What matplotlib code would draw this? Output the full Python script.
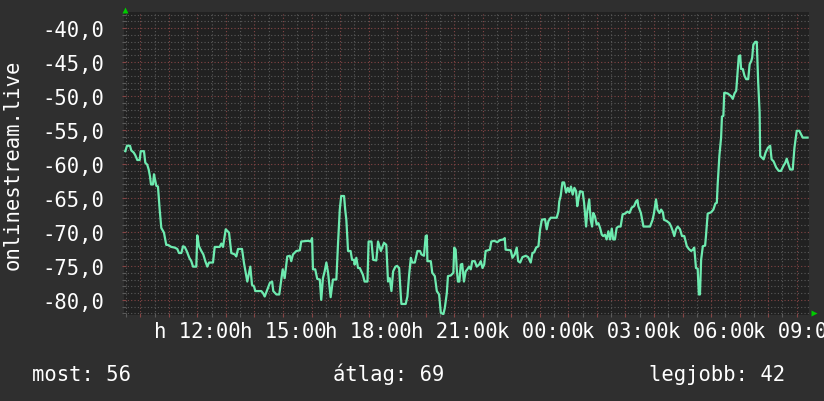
import matplotlib
matplotlib.use("Agg")
import matplotlib.pyplot as plt
from matplotlib.ticker import MultipleLocator, FuncFormatter

plt.rcParams['font.family'] = ['DejaVu Sans Mono']

# time in hours (values > 24 belong to the next day)
hours = [
 9.475, 9.535, 9.64, 9.686, 9.77, 9.826, 9.896, 9.98, 10.015, 10.13, 10.176, 10.246, 10.295, 10.34,
 10.376, 10.446, 10.48, 10.562, 10.62, 10.68, 10.737, 10.83, 10.91, 10.97, 11.087, 11.207, 11.298,
 11.357, 11.438, 11.497, 11.557, 11.627, 11.718, 11.788, 11.848, 11.963, 11.998, 12.058, 12.139,
 12.209, 12.279, 12.349, 12.408, 12.548, 12.608, 12.783, 12.84, 12.899, 12.994, 13.11, 13.19, 13.31,
 13.365, 13.425, 13.565, 13.635, 13.694, 13.75, 13.855, 13.915, 13.985, 14.03, 14.24,
 14.30, 14.36, 14.45, 14.54, 14.62, 14.66, 14.77, 14.87, 14.94, 14.99, 15.06, 15.15, 15.24, 15.29,
 15.35, 15.47, 15.59, 15.64, 15.88, 15.97, 16.02, 16.05, 16.13, 16.20, 16.29, 16.34, 16.40, 16.46,
 16.52, 16.58, 16.67, 16.75, 16.87, 16.93, 16.99, 17.04, 17.14, 17.18, 17.22, 17.28, 17.37, 17.42,
 17.49, 17.51, 17.57, 17.63, 17.69, 17.80, 17.86, 17.96, 18.00, 18.10, 18.16, 18.27, 18.33, 18.43,
 18.54, 18.62, 18.68, 18.74, 18.80, 18.86, 18.94, 19.00,
 19.07, 19.13, 19.15, 19.30, 19.36, 19.42, 19.48, 19.53, 19.62, 19.71, 19.80, 19.85, 19.94, 20.00,
 20.04, 20.06, 20.18, 20.23, 20.32, 20.39, 20.47, 20.53, 20.62, 20.67, 20.74, 20.78, 20.88, 20.97,
 21.00, 21.05, 21.09, 21.13, 21.18, 21.23, 21.28, 21.34, 21.40, 21.46, 21.52, 21.58, 21.63, 21.72,
 21.79, 21.87, 21.93, 21.99, 22.05, 22.10, 22.18, 22.25, 22.30, 22.40, 22.51, 22.60, 22.72, 22.77,
 22.80, 22.98, 23.04, 23.12, 23.19, 23.24, 23.31, 23.39, 23.51, 23.59, 23.68, 23.74, 23.80,
 23.87, 23.95, 24.01, 24.07, 24.18, 24.24, 24.30, 24.38, 24.59, 24.65, 24.68, 24.73, 24.79, 24.85,
 24.92, 24.98, 25.03, 25.09, 25.15, 25.21, 25.27, 25.31, 25.36, 25.41, 25.50, 25.55, 25.62, 25.66,
 25.73, 25.78, 25.83, 25.87, 25.93, 25.99, 26.05, 26.11, 26.17, 26.22, 26.28, 26.34, 26.40, 26.46,
 26.52, 26.57, 26.63, 26.69, 26.75, 26.83, 26.90, 26.98, 27.07, 27.14, 27.22, 27.30, 27.37, 27.42,
 27.45, 27.54, 27.63, 27.86, 27.95, 28.00, 28.07, 28.12, 28.19, 28.25, 28.31, 28.35, 28.45, 28.54,
 28.60, 28.66, 28.71, 28.77, 28.83, 28.91, 28.98, 29.06, 29.15, 29.22, 29.30, 29.36, 29.41, 29.47,
 29.53, 29.57, 29.61, 29.65, 29.71, 29.79, 29.82, 29.88, 30.00, 30.08, 30.15, 30.20, 30.23, 30.29,
 30.35, 30.38, 30.43, 30.46, 30.58, 30.70, 30.76, 30.82, 30.88, 30.91, 30.97, 31.02, 31.05, 31.11,
 31.17, 31.23, 31.30, 31.35, 31.41, 31.44, 31.48, 31.55, 31.60, 31.65, 31.70, 31.72, 31.79, 31.84,
 31.91, 31.99, 32.07, 32.12, 32.19, 32.28, 32.37, 32.45, 32.53, 32.60, 32.65, 32.72, 32.77, 32.86,
 32.92, 33.00, 33.09, 33.15, 33.21, 33.38,
]

values = [
 -58.1, -57.3, -57.3, -58.0, -58.3, -58.7, -59.4, -59.4, -58.1, -58.1, -59.8, -60.1, -60.8, -61.8,
 -63.0, -63.0, -61.5, -63.2, -63.3, -66.7, -69.4, -70.1, -71.9, -71.9, -72.2, -72.3, -72.5,
 -73.1, -73.1, -72.1, -72.2, -72.8, -73.8, -74.3, -75.1, -75.1, -70.5, -72.1, -72.8,
 -73.3, -74.3, -75.1, -74.5, -74.5, -72.2, -72.2, -71.7, -72.2, -69.6, -70.1, -73.1, -73.3,
 -73.6, -72.5, -72.5, -74.6, -76.0, -77.3, -75.1, -77.8, -78.0, -78.7, -78.7,
 -79.0, -79.5, -78.5, -77.5, -77.3, -78.7, -79.2, -79.2, -77.0, -75.5, -76.8, -73.6, -73.5, -74.3,
 -73.3, -72.8, -72.7, -71.4, -71.3, -71.4, -70.9, -75.5, -75.5, -76.9, -77.0, -80.0, -76.8, -75.8,
 -74.5, -76.0, -79.6, -77.0, -77.0, -71.6, -66.7, -64.7, -64.7, -66.7, -68.2, -72.8, -72.8, -74.1,
 -74.1, -74.8, -73.8, -75.3, -75.3, -76.3, -77.3, -77.3, -71.4, -71.4, -74.1, -74.2, -71.4, -72.8,
 -71.6, -71.9, -77.3, -76.8, -78.7, -75.8, -75.1, -75.0,
 -75.3, -79.5, -80.6, -80.6, -79.5, -76.3, -73.8, -74.5, -74.5, -72.8, -72.8, -73.3, -73.5, -70.6,
 -70.5, -74.3, -74.3, -76.0, -76.5, -78.7, -79.2, -81.9, -82.1, -81.2, -79.0, -76.5, -76.4, -76.0,
 -72.3, -72.6, -75.5, -77.3, -77.3, -74.8, -74.7, -77.3, -75.8, -75.5, -75.1, -75.5, -74.3, -74.3,
 -75.1, -74.8, -74.3, -75.3, -74.8, -72.8, -72.7, -72.6, -71.4, -71.3, -71.5, -71.2, -71.1, -70.9,
 -72.6, -72.7, -73.8, -73.3, -72.3, -74.3, -74.5, -73.7, -73.5, -73.7, -74.5, -73.1, -73.0,
 -72.3, -72.1, -69.6, -68.2, -68.1, -69.6, -68.4, -67.9, -67.9, -67.0, -65.5, -64.7, -62.7, -62.7,
 -64.2, -63.5, -64.1, -63.3, -64.5, -63.5, -64.0, -66.2, -65.0, -64.0, -64.1, -65.7, -69.2, -67.0,
 -65.2, -68.2, -69.2, -67.2, -67.7, -68.9, -68.7, -69.4, -70.4, -70.6, -70.4, -71.1, -69.9, -71.1,
 -69.5, -71.1, -71.1, -69.4, -69.2, -69.2, -67.4, -67.3, -67.0, -67.2, -66.4, -66.2, -65.5, -65.3,
 -66.2, -67.2, -69.2, -69.2, -68.2, -67.2, -65.2, -66.7, -67.2, -66.7, -67.1, -68.2, -68.4, -68.7,
 -69.2, -69.9, -70.6, -69.6, -69.2, -69.6, -70.6, -70.6, -72.1, -72.5, -72.8, -72.6, -72.3, -75.3,
 -75.4, -79.2, -79.2, -74.1, -72.1, -72.0, -70.6, -67.3, -67.1, -66.7, -65.8, -65.7, -63.0, -58.8,
 -56.1, -53.0, -52.9, -49.5, -49.6, -50.0, -50.4, -49.6, -49.2, -47.5, -44.1, -44.0, -46.0, -46.0,
 -47.0, -47.5, -47.5, -45.3, -44.8, -44.3, -42.4, -42.0, -42.0, -48.0, -52.4, -58.8, -59.1, -59.3,
 -58.3, -57.6, -57.3, -59.3, -59.6, -60.5, -61.0, -61.0, -60.3, -59.8, -59.2, -60.2, -60.8, -60.8,
 -57.6, -55.1, -55.1, -55.6, -56.1, -56.1,
]

x_label_hours = [12, 15, 18, 21, 24, 27, 30, 33]
x_label_texts = ["h 12:00", "h 15:00", "h 18:00", "h 21:00",
                 "k 00:00", "k 03:00", "k 06:00", "k 09:00"]
y_ticks = [-40, -45, -50, -55, -60, -65, -70, -75, -80]
y_label = "onlinestream.live"
stats = ["most: 56", "átlag: 69", "legjobb: 42"]

W, H = 824, 402
BG = "#2f2f2f"
CANVAS = "#212121"
LINE = "#6eebb0"
MGRID = "#844545"
GRID = "#5a5a5a"
FS = 14.8

fig = plt.figure(figsize=(W / 100, H / 100), dpi=100, facecolor=BG)
ax = fig.add_axes([124 / W, 1 - 315.5 / H, (809 - 124) / W, (315.5 - 13.3) / H])
ax.set_facecolor(CANVAS)
for s in ax.spines.values():
    s.set_visible(False)

ax.plot(hours, values, color=LINE, lw=1.6, zorder=3)
ax.set_xlim(9.43, 33.43)
ax.set_ylim(-82.15, -37.65)

# grid
ax.xaxis.set_major_locator(MultipleLocator(1))
ax.xaxis.set_minor_locator(MultipleLocator(0.5))
ax.yaxis.set_major_locator(MultipleLocator(5))
ax.yaxis.set_minor_locator(MultipleLocator(1))
lab_map = dict(zip(x_label_hours, x_label_texts))
ax.xaxis.set_major_formatter(FuncFormatter(lambda v, p: lab_map.get(int(round(v)), "") if abs(v - round(v)) < 1e-6 else ""))
ax.yaxis.set_major_formatter(FuncFormatter(lambda v, p: (f"{v:.1f}".replace(".", ",")) if int(round(v)) in y_ticks else ""))
ax.grid(which="major", color=MGRID, lw=0.8, linestyle=(0, (1, 2)), zorder=1)
ax.grid(which="minor", color=GRID, lw=0.8, linestyle=(0, (1, 2)), zorder=1)

ax.tick_params(which="both", direction="inout", length=3, width=0.8)
ax.tick_params(which="major", colors=MGRID, labelcolor="white", labelsize=FS)
ax.tick_params(which="minor", colors=GRID)
ax.tick_params(axis="x", which="major", pad=3)
ax.tick_params(axis="y", which="major", pad=13)

# axis arrows
ax.plot([0.0015], [1.0 + 2.6 / 302], marker="^", color="#00cc00", ms=5, mec="none",
        transform=ax.transAxes, clip_on=False, zorder=5)
ax.plot([1.0 + 4.5 / 685], [0.004], marker=">", color="#00cc00", ms=5, mec="none",
        transform=ax.transAxes, clip_on=False, zorder=5)

fig.text(12.5 / W, 1 - 164.5 / H, y_label, rotation=90, ha="center", va="center",
         color="white", fontsize=FS)
stat_x = [32, 333, 649]
for sx, t in zip(stat_x, stats):
    fig.text(sx / W, 1 - 381 / H, t, ha="left", va="baseline", color="white", fontsize=FS)

fig.savefig("out.png", dpi=100, facecolor=BG)
